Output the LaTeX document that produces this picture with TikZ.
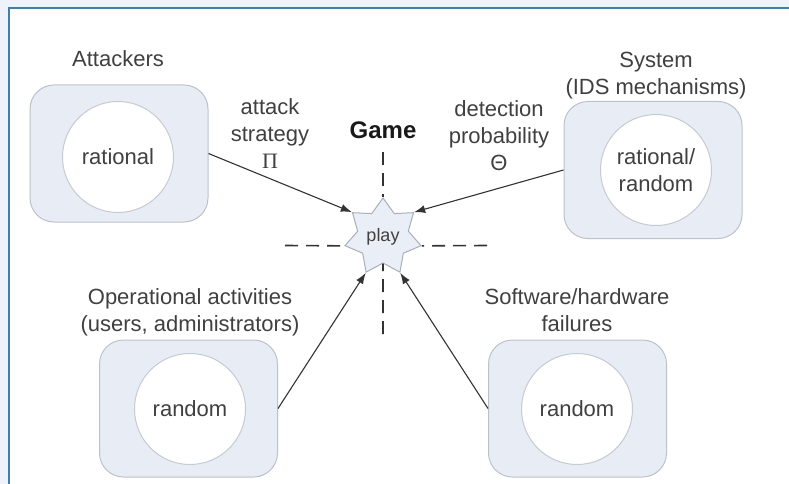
\documentclass[tikz,border=0pt]{standalone}
\usepackage{fontspec}
\setmainfont{Liberation Sans}
\newfontfamily\grkserif{Liberation Serif}
\usetikzlibrary{shapes.geometric,arrows.meta}
\definecolor{bgblue}{HTML}{EEF3FB}
\definecolor{frameblue}{HTML}{3F80AA}
\definecolor{boxfill}{HTML}{E8ECF4}
\definecolor{boxline}{HTML}{BCC2CC}
\definecolor{circline}{HTML}{C6CAD2}
\definecolor{txt}{HTML}{404040}
\definecolor{starfill}{HTML}{E9EEF7}
\definecolor{starline}{HTML}{A9AFBA}
\begin{document}
\begin{tikzpicture}[x=1pt,y=-1pt,
 agentbox/.style={draw=boxline, fill=boxfill, rounded corners=24pt, line width=1pt, minimum width=178pt, minimum height=137pt, inner sep=0pt},
 agentcircle/.style={circle, draw=circline, fill=white, line width=1pt, minimum size=111pt, inner sep=0pt, font=\fontsize{22}{27}\selectfont, text=txt, align=center},
 lbl/.style={font=\fontsize{22}{27}\selectfont, text=txt, align=center, inner sep=0pt, anchor=base},
 flow/.style={-{Latex[length=11pt,width=8pt]}, line width=1.1pt, draw=black!80},
 axis/.style={dash pattern=on 13pt off 8pt, line width=1.6pt, draw=black!80},
]
\useasboundingbox (0,0) rectangle (789,484);
\fill[bgblue] (0,0) rectangle (789,484);
\fill[white] (9,9) rectangle (789,484);
\draw[frameblue, line width=2pt] (8.5,484) -- (8.5,8.5) -- (789,8.5);

% boxes
\node[agentbox] (attbox) at (119,153.5) {};
\node[agentbox] (sysbox) at (653,170) {};
\node[agentbox] (opsbox) at (188.5,408.5) {};
\node[agentbox] (swbox) at (577.5,408.5) {};

\node[agentcircle] (attc) at (118,157) {rational};
\node[agentcircle] (sysc) at (656,170) {rational/\\random};
\node[agentcircle] (opsc) at (190,409) {random};
\node[agentcircle] (swc) at (577,409) {random};

% labels (base = baseline of last line)
\node[lbl] (attlbl) at (118,67) {Attackers};
\node[lbl] (syslbl) at (656,95) {System\\(IDS mechanisms)};
\node[lbl] (opslbl) at (190,331) {Operational activities\\(users, administrators)};
\node[lbl] (swlbl) at (577,331) {Software/hardware\\failures};
\node[lbl] (strat) at (270,168) {attack\\strategy\\{\grkserif Π}};
\node[lbl] (detect) at (499,170) {detection\\probability\\Θ};
\node[lbl, font=\fontsize{24}{28}\selectfont\bfseries, text=black!90] (game) at (383,139) {Game};

% star
\node[star, star points=7, star point ratio=1.5, minimum size=78pt, inner sep=0pt,
      draw=starline, fill=starfill, line width=1pt, text=txt,
      font=\fontsize{18}{20}\selectfont] (play) at (383,237) {play};

% axes
\coordinate (axtop) at (383,152);
\coordinate (axbot) at (383,334);
\coordinate (axleft) at (285,245.5);
\coordinate (axright) at (487,245.5);
\draw[axis] (axtop) -- (play.outer point 1);
\draw[axis] (axbot) -- (play.south);
\draw[axis] (axleft) -- (play.outer point 3);
\draw[axis] (axright) -- (play.outer point 6);

% flows
\draw[flow] (attbox.east) -- (play.outer point 2);
\draw[flow] (sysbox.west) -- (play.outer point 7);
\draw[flow] (opsbox.east) -- (play.outer point 4);
\draw[flow] (swbox.west) -- (play.outer point 5);
\end{tikzpicture}
\end{document}
